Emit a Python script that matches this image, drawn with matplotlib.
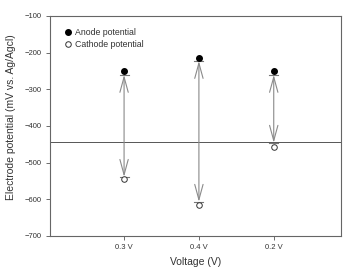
import numpy as np
import matplotlib.pyplot as plt

plt.rcParams['font.family'] = ['Liberation Sans', 'DejaVu Sans']

categories = ['0.3 V', '0.4 V', '0.2 V']
anode = [-250, -215, -250]
cathode = [-545, -617, -458]
arrow_top = [-261, -223, -261]
arrow_bottom = [-539, -607, -446]
ref_line = -444

x = np.arange(1, len(categories) + 1)

fig = plt.figure(figsize=(3.52, 2.69), dpi=100)
ax = fig.add_axes([0.142, 0.123, 0.827, 0.818])

ax.axhline(ref_line, color='#555555', lw=0.7, zorder=1)

for xi, top, bot in zip(x, arrow_top, arrow_bottom):
    ax.annotate('', xy=(xi, top), xytext=(xi, bot),
                arrowprops=dict(arrowstyle='<->,head_length=1.1,head_width=0.3',
                                color='#8a8a8a', lw=0.8, mutation_scale=10,
                                shrinkA=0, shrinkB=0), zorder=2)
    ax.plot([xi - 0.06, xi + 0.06], [top, top], color='#777777', lw=0.8, zorder=2)
    ax.plot([xi - 0.06, xi + 0.06], [bot, bot], color='#777777', lw=0.8, zorder=2)

ax.plot(x, anode, 'o', color='black', ms=4.0, ls='none', label='Anode potential', zorder=3)
ax.plot(x, cathode, 'o', mfc='white', mec='#333333', mew=0.7, ms=4.0, ls='none',
        label='Cathode potential', zorder=3)

ax.set_xlim(0.01, 3.9)
ax.set_ylim(-700, -100)
ax.set_yticks(np.arange(-700, -99, 100))
ax.set_xticks(x)
ax.set_xticklabels(categories)
ax.tick_params(labelsize=5.5, length=3, width=0.6, color='#555555', labelcolor='#333333', pad=3)

for s in ax.spines.values():
    s.set_color('#666666')
    s.set_linewidth(0.8)

ax.set_ylabel('Electrode potential (mV vs. Ag/Agcl)', fontsize=7.5, color='#333333')
ax.yaxis.set_label_coords(-0.134, 0.54)
ax.yaxis.label.set_verticalalignment('center')
ax.set_xlabel('Voltage (V)', fontsize=7.5, color='#333333')
ax.xaxis.set_label_coords(0.5, -0.095)

ax.legend(loc='upper left', bbox_to_anchor=(0.02, 0.98), frameon=False, fontsize=6.3,
          handletextpad=0.3, labelspacing=0.3, handlelength=1.0, labelcolor='#333333')

fig.savefig('out.png', dpi=100)
